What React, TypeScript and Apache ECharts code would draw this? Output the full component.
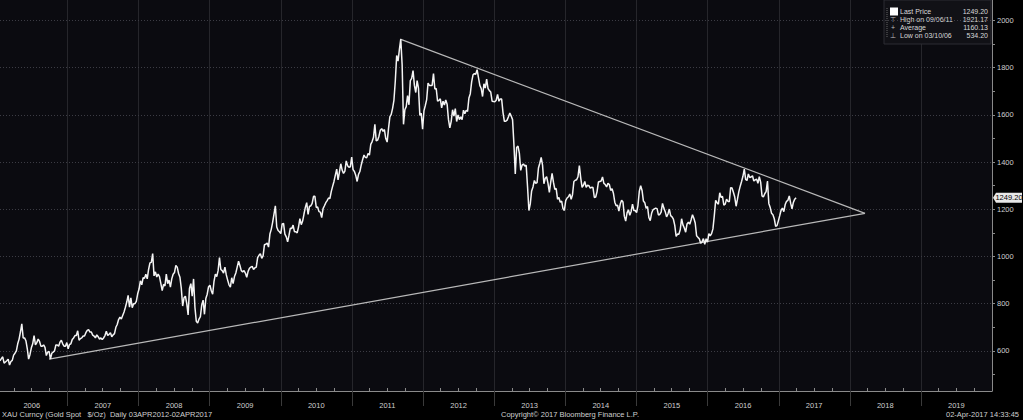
import React, { useEffect, useRef } from "react";
import * as echarts from "echarts";

// Weekly XAU (Gold spot, $/oz) values, Fridays from 20-Jan-2006
const gold2006 = [558,567,575,548,553,558,565,540,555,560,582,590,600,630,650,680,715,655,655,643,610,565,585,613,630,665,625,635,650,640,620,620,625,615,580,595,598,565,590,595,600,625,625,620,637,645,630,620,620,635];
const gold2007 = [609,627,630,648,655,665,665,685,645,652,655,663,663,677,687,690,680,680,667,663,655,668,660,650,655,648,655,665,683,665,670,677,660,668,673,700,712,733,743,735,750,765,785,807,835,785,825,783,800,800,810,842];
const gold2008 = [862,897,880,910,908,925,905,945,973,975,1012,918,935,913,925,915,885,855,882,875,925,885,900,870,905,925,932,962,955,928,912,865,790,825,832,800,752,865,885,832,905,785,725,718,735,745,795,815,755,822,840,872];
const gold2009 = [878,855,840,895,925,915,940,995,945,940,930,955,922,900,880,870,910,885,915,930,955,980,962,940,935,940,930,912,937,950,955,958,945,952,955,995,1005,1012,992,1003,1050,1052,1057,1040,1095,1115,1145,1180,1215,1125,1110,1105];
const gold2010 = [1097,1138,1140,1095,1083,1062,1090,1120,1118,1133,1105,1105,1100,1125,1160,1135,1150,1180,1208,1228,1178,1212,1215,1225,1255,1255,1208,1210,1190,1188,1165,1203,1215,1228,1237,1248,1245,1275,1297,1318,1345,1370,1325,1358,1393,1366,1352,1362,1405,1385,1378,1380,1421];
const gold2011 = [1368,1360,1343,1318,1348,1360,1388,1410,1430,1420,1418,1437,1430,1475,1487,1505,1560,1490,1493,1510,1535,1542,1530,1538,1500,1485,1542,1592,1602,1628,1663,1745,1852,1828,1878,1921,1812,1560,1622,1635,1682,1643,1745,1755,1788,1725,1695,1745,1712,1598,1607,1540];
const gold2012 = [1617,1640,1665,1735,1725,1725,1725,1775,1710,1712,1658,1662,1668,1630,1658,1642,1663,1645,1580,1545,1573,1622,1595,1627,1572,1600,1580,1592,1580,1620,1605,1620,1615,1672,1690,1740,1770,1775,1772,1792,1758,1725,1712,1678,1732,1714,1752,1712,1703,1697,1658,1657];
const gold2013 = [1656,1662,1687,1658,1668,1667,1610,1573,1573,1578,1592,1608,1595,1580,1476,1350,1462,1468,1437,1365,1387,1392,1383,1387,1295,1195,1223,1278,1295,1322,1310,1313,1375,1395,1420,1387,1308,1332,1338,1310,1272,1315,1352,1315,1285,1288,1243,1250,1230,1235,1203,1195];
const gold2014 = [1237,1248,1253,1265,1242,1263,1318,1323,1325,1338,1385,1333,1293,1302,1318,1293,1302,1300,1290,1293,1292,1250,1252,1275,1316,1318,1320,1337,1310,1305,1295,1310,1305,1280,1287,1268,1230,1215,1218,1192,1222,1238,1231,1171,1150,1185,1198,1175,1191,1222,1195,1195];
const gold2015 = [1186,1216,1277,1300,1280,1235,1228,1204,1212,1165,1152,1183,1198,1202,1205,1203,1176,1178,1188,1225,1205,1190,1168,1180,1201,1173,1168,1158,1132,1085,1095,1094,1113,1160,1134,1121,1103,1138,1145,1137,1156,1177,1162,1142,1088,1081,1075,1056,1062,1076,1052,1075];
const gold2016 = [1061,1097,1088,1097,1117,1173,1238,1228,1222,1270,1250,1255,1218,1222,1243,1234,1232,1292,1290,1272,1252,1213,1243,1275,1298,1318,1340,1370,1327,1322,1350,1335,1337,1342,1320,1325,1328,1310,1338,1315,1257,1252,1266,1275,1320,1225,1208,1183,1177,1160,1128,1131,1151];
const gold2017 = [1173,1196,1205,1190,1220,1234,1238,1257,1226,1202,1229,1243,1249.2];

const firstWeek = "2006-01-20";
const axisEnd = "2020-01-01";

const yearLabels = ["2006","2007","2008","2009","2010","2011","2012","2013","2014","2015","2016","2017","2018","2019"];
const yLabelValues = [600, 800, 1000, 1200, 1400, 1600, 1800, 2000];
const yTickValues = [500, 600, 700, 800, 900, 1000, 1100, 1200, 1300, 1400, 1500, 1600, 1700, 1800, 1900, 2000];

// trend lines (start / end points)
const lowerTrend = [["2006-09-29", 565], ["2018-03-20", 1183]];
const upperTrend = [["2011-09-06", 1921.17], ["2018-03-20", 1183]];

const legendNames = ["Last Price", "High on 09/06/11", "Average", "Low on 03/10/06"];
const legendValues = ["1249.20", "1921.17", "1160.13", "534.20"];
const legendIcons = ["", "⊤", "+", "⊥"];
const lastPrice = 1249.2;

const footerLeft = "XAU Curncy (Gold Spot   $/Oz)  Daily 03APR2012-02APR2017";
const footerCenter = "Copyright© 2017 Bloomberg Finance L.P.";
const footerRight = "02-Apr-2017 14:33:45";

const FONT = "Liberation Sans";
const WEEK = 7 * 86400000;

export default function App() {
  const ref = useRef<HTMLDivElement>(null);
  useEffect(() => {
    if (!ref.current) return;
    const chart = echarts.init(ref.current, null, { renderer: "svg" });
    const t0 = Date.parse(firstWeek);
    const tEnd = Date.parse(axisEnd);
    const prices = [gold2006, gold2007, gold2008, gold2009, gold2010, gold2011, gold2012, gold2013, gold2014, gold2015, gold2016, gold2017].flat();
    const priceData = prices.map((v, i) => [t0 + i * WEEK, v]);
    const yearStarts = yearLabels.slice(1).map((y) => Date.UTC(+y, 0, 1));
    const yearMids = yearLabels.map((y) => Date.UTC(+y, 6, 2));
    const quarters: number[] = [];
    yearLabels.forEach((y) => {
      [3, 6, 9].forEach((m) => quarters.push(Date.UTC(+y, m, 1)));
    });
    const midToYear: Record<number, string> = {};
    yearMids.forEach((t, i) => (midToYear[t] = yearLabels[i]));
    const toPts = (arr: any[]) => arr.map((p) => [Date.parse(p[0]), p[1]]);

    chart.setOption({
      animation: false,
      backgroundColor: "#000000",
      grid: {
        left: 0, right: 31, top: 0, bottom: 29,
        show: true, backgroundColor: "#0b0b10", borderWidth: 0,
      },
      xAxis: [
        {
          type: "value", min: t0, max: tEnd, position: "bottom",
          axisLine: { show: true, lineStyle: { color: "#8a8a8a", width: 1 } },
          axisTick: { show: true, customValues: yearStarts, length: 15, lineStyle: { color: "#3a3a3a" } },
          splitLine: { show: true, lineStyle: { color: "#26262b", width: 1, type: "solid" } },
          axisLabel: {
            customValues: yearMids, color: "#cfcfcf", fontSize: 7.5, fontFamily: FONT, margin: 10,
            formatter: (v: number) => midToYear[v] ?? "",
          },
        },
        {
          type: "value", min: t0, max: tEnd, position: "bottom",
          axisLine: { show: false },
          axisTick: { show: true, inside: true, customValues: quarters, length: 3, lineStyle: { color: "#8a8a8a" } },
          axisLabel: { show: false },
          splitLine: { show: false },
        },
      ],
      yAxis: {
        type: "value", min: 430, max: 2087, position: "right",
        axisLine: { show: true, lineStyle: { color: "#8a8a8a", width: 1 } },
        axisTick: { show: true, customValues: yTickValues, length: 3, lineStyle: { color: "#8a8a8a" } },
        splitLine: { show: false },
        axisLabel: {
          customValues: yLabelValues, color: "#cfcfcf", fontSize: 7.5, fontFamily: FONT, margin: 5,
          formatter: (v: number) => String(v),
        },
      },
      series: [
        {
          type: "line", data: priceData, showSymbol: false, symbol: "none",
          lineStyle: { color: "#f4f4f4", width: 1.5 }, z: 5,
          markLine: {
            silent: true, symbol: ["none", "none"], label: { show: false },
            lineStyle: { color: "#3c3c44", type: [1, 2], width: 1 },
            data: yLabelValues.map((v) => ({ yAxis: v })),
            z: 1,
          },
        },
        {
          type: "line", data: toPts(lowerTrend), showSymbol: false, symbol: "none",
          lineStyle: { color: "#b9b9b9", width: 1.2 }, z: 4,
        },
        {
          type: "line", data: toPts(upperTrend), showSymbol: false, symbol: "none",
          lineStyle: { color: "#b9b9b9", width: 1.2 }, z: 4,
        },
      ],
    });

    const yLast = chart.convertToPixel({ yAxisIndex: 0 }, lastPrice) as number;
    const legendX = 884;
    const rowY = [11.5, 19.5, 27.5, 35.5];
    const legendChildren: any[] = [
      { type: "rect", shape: { x: legendX, y: 0, width: 107, height: 44 }, style: { fill: "#111116", stroke: "#2c2c32", lineWidth: 1 } },
      { type: "line", shape: { x1: legendX + 3, y1: 8, x2: legendX + 3, y2: 38 }, style: { stroke: "#666", lineDash: [1, 1], lineWidth: 1 } },
    ];
    legendNames.forEach((name, i) => {
      if (i === 0) {
        legendChildren.push({ type: "rect", shape: { x: legendX + 6, y: rowY[i] - 4, width: 8, height: 8 }, style: { fill: "#ffffff" } });
      } else {
        legendChildren.push({ type: "text", style: { x: legendX + 9, y: rowY[i], text: legendIcons[i], fill: "#bdbdbd", font: `7px ${FONT}`, align: "center", verticalAlign: "middle" } });
      }
      legendChildren.push({ type: "text", style: { x: legendX + 16, y: rowY[i], text: name, fill: "#d8d8d8", font: `7px ${FONT}`, verticalAlign: "middle" } });
      legendChildren.push({ type: "text", style: { x: legendX + 104, y: rowY[i], text: legendValues[i], fill: "#d8d8d8", font: `7px ${FONT}`, align: "right", verticalAlign: "middle" } });
    });

    chart.setOption({
      graphic: [
        { type: "group", children: legendChildren, z: 100 },
        { type: "polygon", shape: { points: [[993, yLast], [996, yLast - 5], [1022, yLast - 5], [1022, yLast + 5], [996, yLast + 5]] }, style: { fill: "#e8e8e8" }, z: 100 },
        { type: "text", style: { x: 1009, y: yLast, text: lastPrice.toFixed(2), fill: "#000", font: `7.5px ${FONT}`, align: "center", verticalAlign: "middle" }, z: 101 },
        { type: "text", style: { x: 2, y: 414, text: footerLeft, fill: "#cfcfcf", font: `7.5px ${FONT}`, verticalAlign: "middle" } },
        { type: "text", style: { x: 501, y: 414, text: footerCenter, fill: "#cfcfcf", font: `7.5px ${FONT}`, verticalAlign: "middle" } },
        { type: "text", style: { x: 1019, y: 414, text: footerRight, fill: "#cfcfcf", font: `7.5px ${FONT}`, align: "right", verticalAlign: "middle" } },
      ],
    });

    return () => chart.dispose();
  }, []);
  return <div ref={ref} style={{ position: "absolute", left: 0, top: 0, width: 1023, height: 420 }} />;
}
